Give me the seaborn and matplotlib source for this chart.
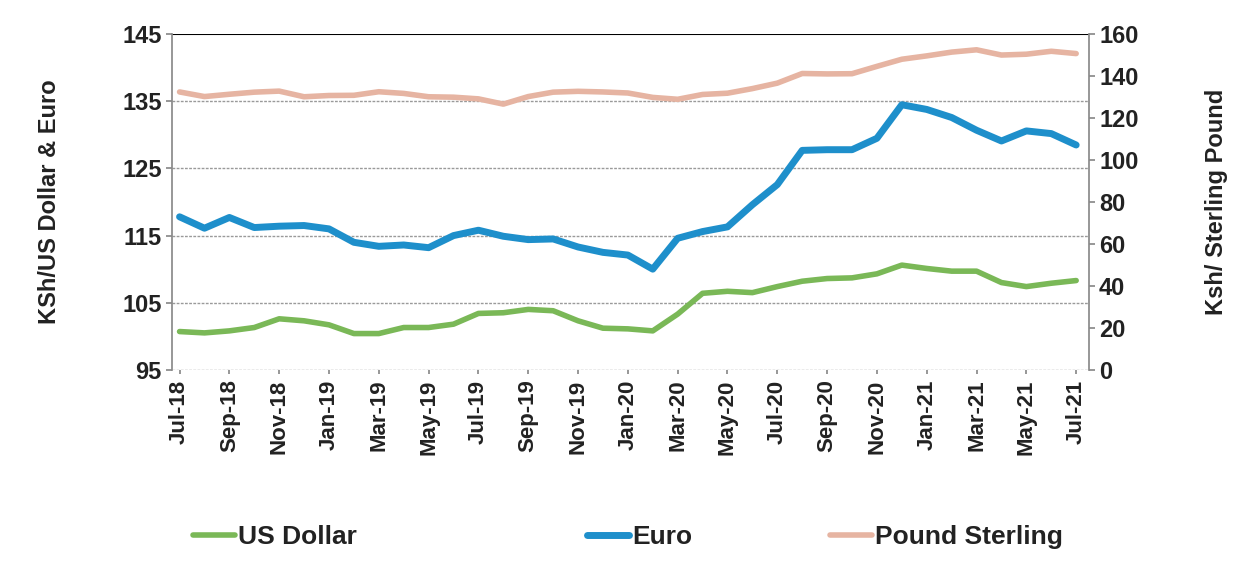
import numpy as np
import pandas as pd
import seaborn as sns
from matplotlib import pyplot as plt

# monthly exchange rates, Jul-18 .. Jul-21
months = pd.date_range('2018-07-01', '2021-07-01', freq='MS').strftime('%b-%y').tolist()

us_dollar = [100.7, 100.5, 100.8, 101.3, 102.6, 102.3, 101.7, 100.4, 100.4, 101.3,
             101.3, 101.8, 103.4, 103.5, 104.0, 103.8, 102.3, 101.2, 101.1, 100.8,
             103.3, 106.4, 106.7, 106.5, 107.4, 108.2, 108.6, 108.7, 109.3, 110.6,
             110.1, 109.7, 109.7, 108.0, 107.4, 107.9, 108.3]
euro = [117.8, 116.1, 117.7, 116.2, 116.4, 116.5, 116.0, 114.0, 113.4, 113.6,
        113.2, 115.0, 115.8, 114.9, 114.4, 114.5, 113.3, 112.5, 112.1, 110.0,
        114.6, 115.6, 116.3, 119.6, 122.6, 127.7, 127.8, 127.8, 129.5, 134.5,
        133.8, 132.6, 130.7, 129.1, 130.6, 130.2, 128.5]
pound = [132.5, 130.3, 131.4, 132.4, 132.9, 130.2, 130.8, 130.9, 132.6, 131.8,
         130.2, 130.0, 129.2, 126.7, 130.3, 132.4, 132.8, 132.5, 132.0, 129.9,
         129.0, 131.3, 131.9, 134.1, 136.7, 141.3, 141.1, 141.2, 144.7, 148.1,
         149.7, 151.5, 152.6, 150.1, 150.5, 151.9, 150.8]

df = pd.DataFrame({'idx': np.arange(len(months)), 'month': months,
                   'US Dollar': us_dollar, 'Euro': euro, 'Pound Sterling': pound})

sns.set_theme(style="white")
plt.rcParams['font.family'] = ['Liberation Sans', 'DejaVu Sans']

col_usd = '#7ab857'
col_eur = '#1e8fcb'
col_gbp = '#e6b4a2'

fig = plt.figure(figsize=(12.47, 5.62), dpi=100)
ax = fig.add_axes([0.138, 0.342, 0.735, 0.597])
ax2 = ax.twinx()

sns.lineplot(data=df, x='idx', y='US Dollar', ax=ax, color=col_usd, linewidth=4, label='US Dollar', legend=False)
sns.lineplot(data=df, x='idx', y='Euro', ax=ax, color=col_eur, linewidth=5, label='Euro', legend=False)
sns.lineplot(data=df, x='idx', y='Pound Sterling', ax=ax2, color=col_gbp, linewidth=4, label='Pound Sterling', legend=False)

ax.set_ylim(95, 145)
ax.set_yticks(np.arange(95, 146, 10))
ax2.set_ylim(0, 160)
ax2.set_yticks(np.arange(0, 161, 20))
ax.set_xlim(-0.3, 36.5)
ax.set_xticks(df['idx'][::2])
ax.set_xticklabels(df['month'][::2], rotation=90, fontsize=16, fontweight='bold')

for y in [95, 105, 115, 125, 135]:
    ax.axhline(y, color='#9a9a9a', linewidth=1, linestyle=(0, (2, 1)), zorder=0)
ax.axhline(145, color='black', linewidth=1.5, zorder=0)

for a in [ax, ax2]:
    for s in a.spines.values():
        s.set_visible(False)
ax.spines['left'].set_visible(True)
ax.spines['left'].set_color('#8a8a8a')
ax2.spines['right'].set_visible(True)
ax2.spines['right'].set_color('#8a8a8a')

ax.tick_params(axis='y', labelsize=17, length=4, color='#8a8a8a', left=True)
ax2.tick_params(axis='y', labelsize=17, length=4, color='#8a8a8a', right=True)
ax.tick_params(axis='x', length=3, color='#8a8a8a', bottom=True, pad=4)
for lab in ax.get_yticklabels() + ax2.get_yticklabels():
    lab.set_fontweight('bold')
    lab.set_color('#222222')
for lab in ax.get_xticklabels():
    lab.set_color('#222222')

ax.set_xlabel('')
ax.set_ylabel('KSh/US Dollar & Euro', fontsize=17, fontweight='bold', color='#222222', labelpad=44)
ax2.set_ylabel('Ksh/ Sterling Pound', fontsize=17, fontweight='bold', color='#222222', labelpad=48)

h1, l1 = ax.get_legend_handles_labels()
h2, l2 = ax2.get_legend_handles_labels()
handles = h1 + h2
labels = l1 + l2
leg_x = [0.140, 0.456, 0.651]
for h, l, x in zip(handles, labels, leg_x):
    lg = fig.legend([h], [l], loc='lower left', bbox_to_anchor=(x, -0.01), frameon=False,
                    prop={'size': 19, 'weight': 'bold'},
                    handlelength=1.6, handletextpad=0.1, borderaxespad=0.3)
    for t in lg.get_texts():
        t.set_color('#222222')

fig.savefig('out.png', dpi=100)
